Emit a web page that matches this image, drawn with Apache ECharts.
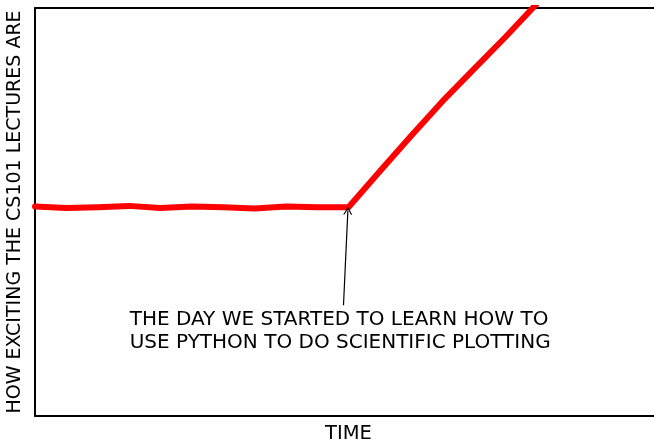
<!DOCTYPE html>
<html>
<head>
<meta charset="utf-8">
<script src="https://cdn.jsdelivr.net/npm/echarts@6/dist/echarts.min.js"></script>
<style>
  html, body { margin: 0; padding: 0; background: #fff; }
  #chart { width: 654px; height: 440px; }
</style>
</head>
<body>
<div id="chart"></div>
<script>
// values
const timeX = [0, 5, 10, 15, 20, 25, 30, 35, 40, 45, 50, 55, 60, 65, 70, 75, 80]
const excitement = [0.8, 0.6, 0.7, 0.9, 0.6, 0.8, 0.7, 0.5, 0.8, 0.7, 0.7, 6.0, 11.2, 16.3, 21.0, 25.7, 30.6]
const annotationText = 'THE DAY WE STARTED TO LEARN HOW TO\nUSE PYTHON TO DO SCIENTIFIC PLOTTING'
const arrowFrom = [49.2, -13.7]
const arrowTo = [49.9, 0.2]
const textAt = [15.1, -17.6]

const font = 'DejaVu Sans'
const spine = { show: true, onZero: false, lineStyle: { color: '#000', width: 2 } }
const chart = echarts.init(document.getElementById('chart'))

chart.setOption({
  animation: false,
  grid: {
    left: 35,
    width: 627,
    top: 8,
    bottom: 24,
    outerBoundsMode: 'none',
    containLabel: false
  },
  xAxis: [{
    type: 'value',
    min: 0,
    max: 100,
    position: 'bottom',
    name: 'TIME',
    nameLocation: 'middle',
    nameGap: 8,
    nameTextStyle: { fontFamily: font, fontSize: 19.5, color: '#000', verticalAlign: 'top' },
    axisLine: spine,
    axisTick: { show: false },
    axisLabel: { show: false },
    splitLine: { show: false }
  }, {
    type: 'value',
    min: 0,
    max: 100,
    position: 'top',
    axisLine: spine,
    axisTick: { show: false },
    axisLabel: { show: false },
    splitLine: { show: false }
  }],
  yAxis: {
    type: 'value',
    min: -30,
    max: 30,
    name: 'HOW EXCITING THE CS101 LECTURES ARE',
    nameLocation: 'middle',
    nameRotate: 90,
    nameGap: 10,
    nameTextStyle: { fontFamily: font, fontSize: 19, color: '#000' },
    axisLine: spine,
    axisTick: { show: false },
    axisLabel: { show: false },
    splitLine: { show: false }
  },
  series: [{
    type: 'line',
    data: timeX.map((x, i) => [x, excitement[i]]),
    smooth: false,
    symbol: 'none',
    clip: true,
    lineStyle: { color: '#ff0000', width: 6, cap: 'round', join: 'round' },
    markLine: {
      silent: true,
      animation: false,
      symbol: ['none', 'path://M0,10 L5,0 L10,10 L8.6,10 L5,2.8 L1.4,10 Z'],
      symbolSize: [9, 8],
      label: { show: false },
      lineStyle: { color: '#000', width: 1.2, type: 'solid', curveness: -0.05 },
      data: [[{ coord: arrowFrom }, { coord: arrowTo }]]
    },
    markPoint: {
      silent: true,
      symbol: 'circle',
      symbolSize: 0,
      data: [{
        coord: textAt,
        label: {
          show: true,
          position: 'right',
          distance: 0,
          formatter: annotationText,
          fontFamily: font,
          fontSize: 20,
          lineHeight: 23,
          color: '#000',
          align: 'left'
        }
      }]
    }
  }]
})
</script>
</body>
</html>
